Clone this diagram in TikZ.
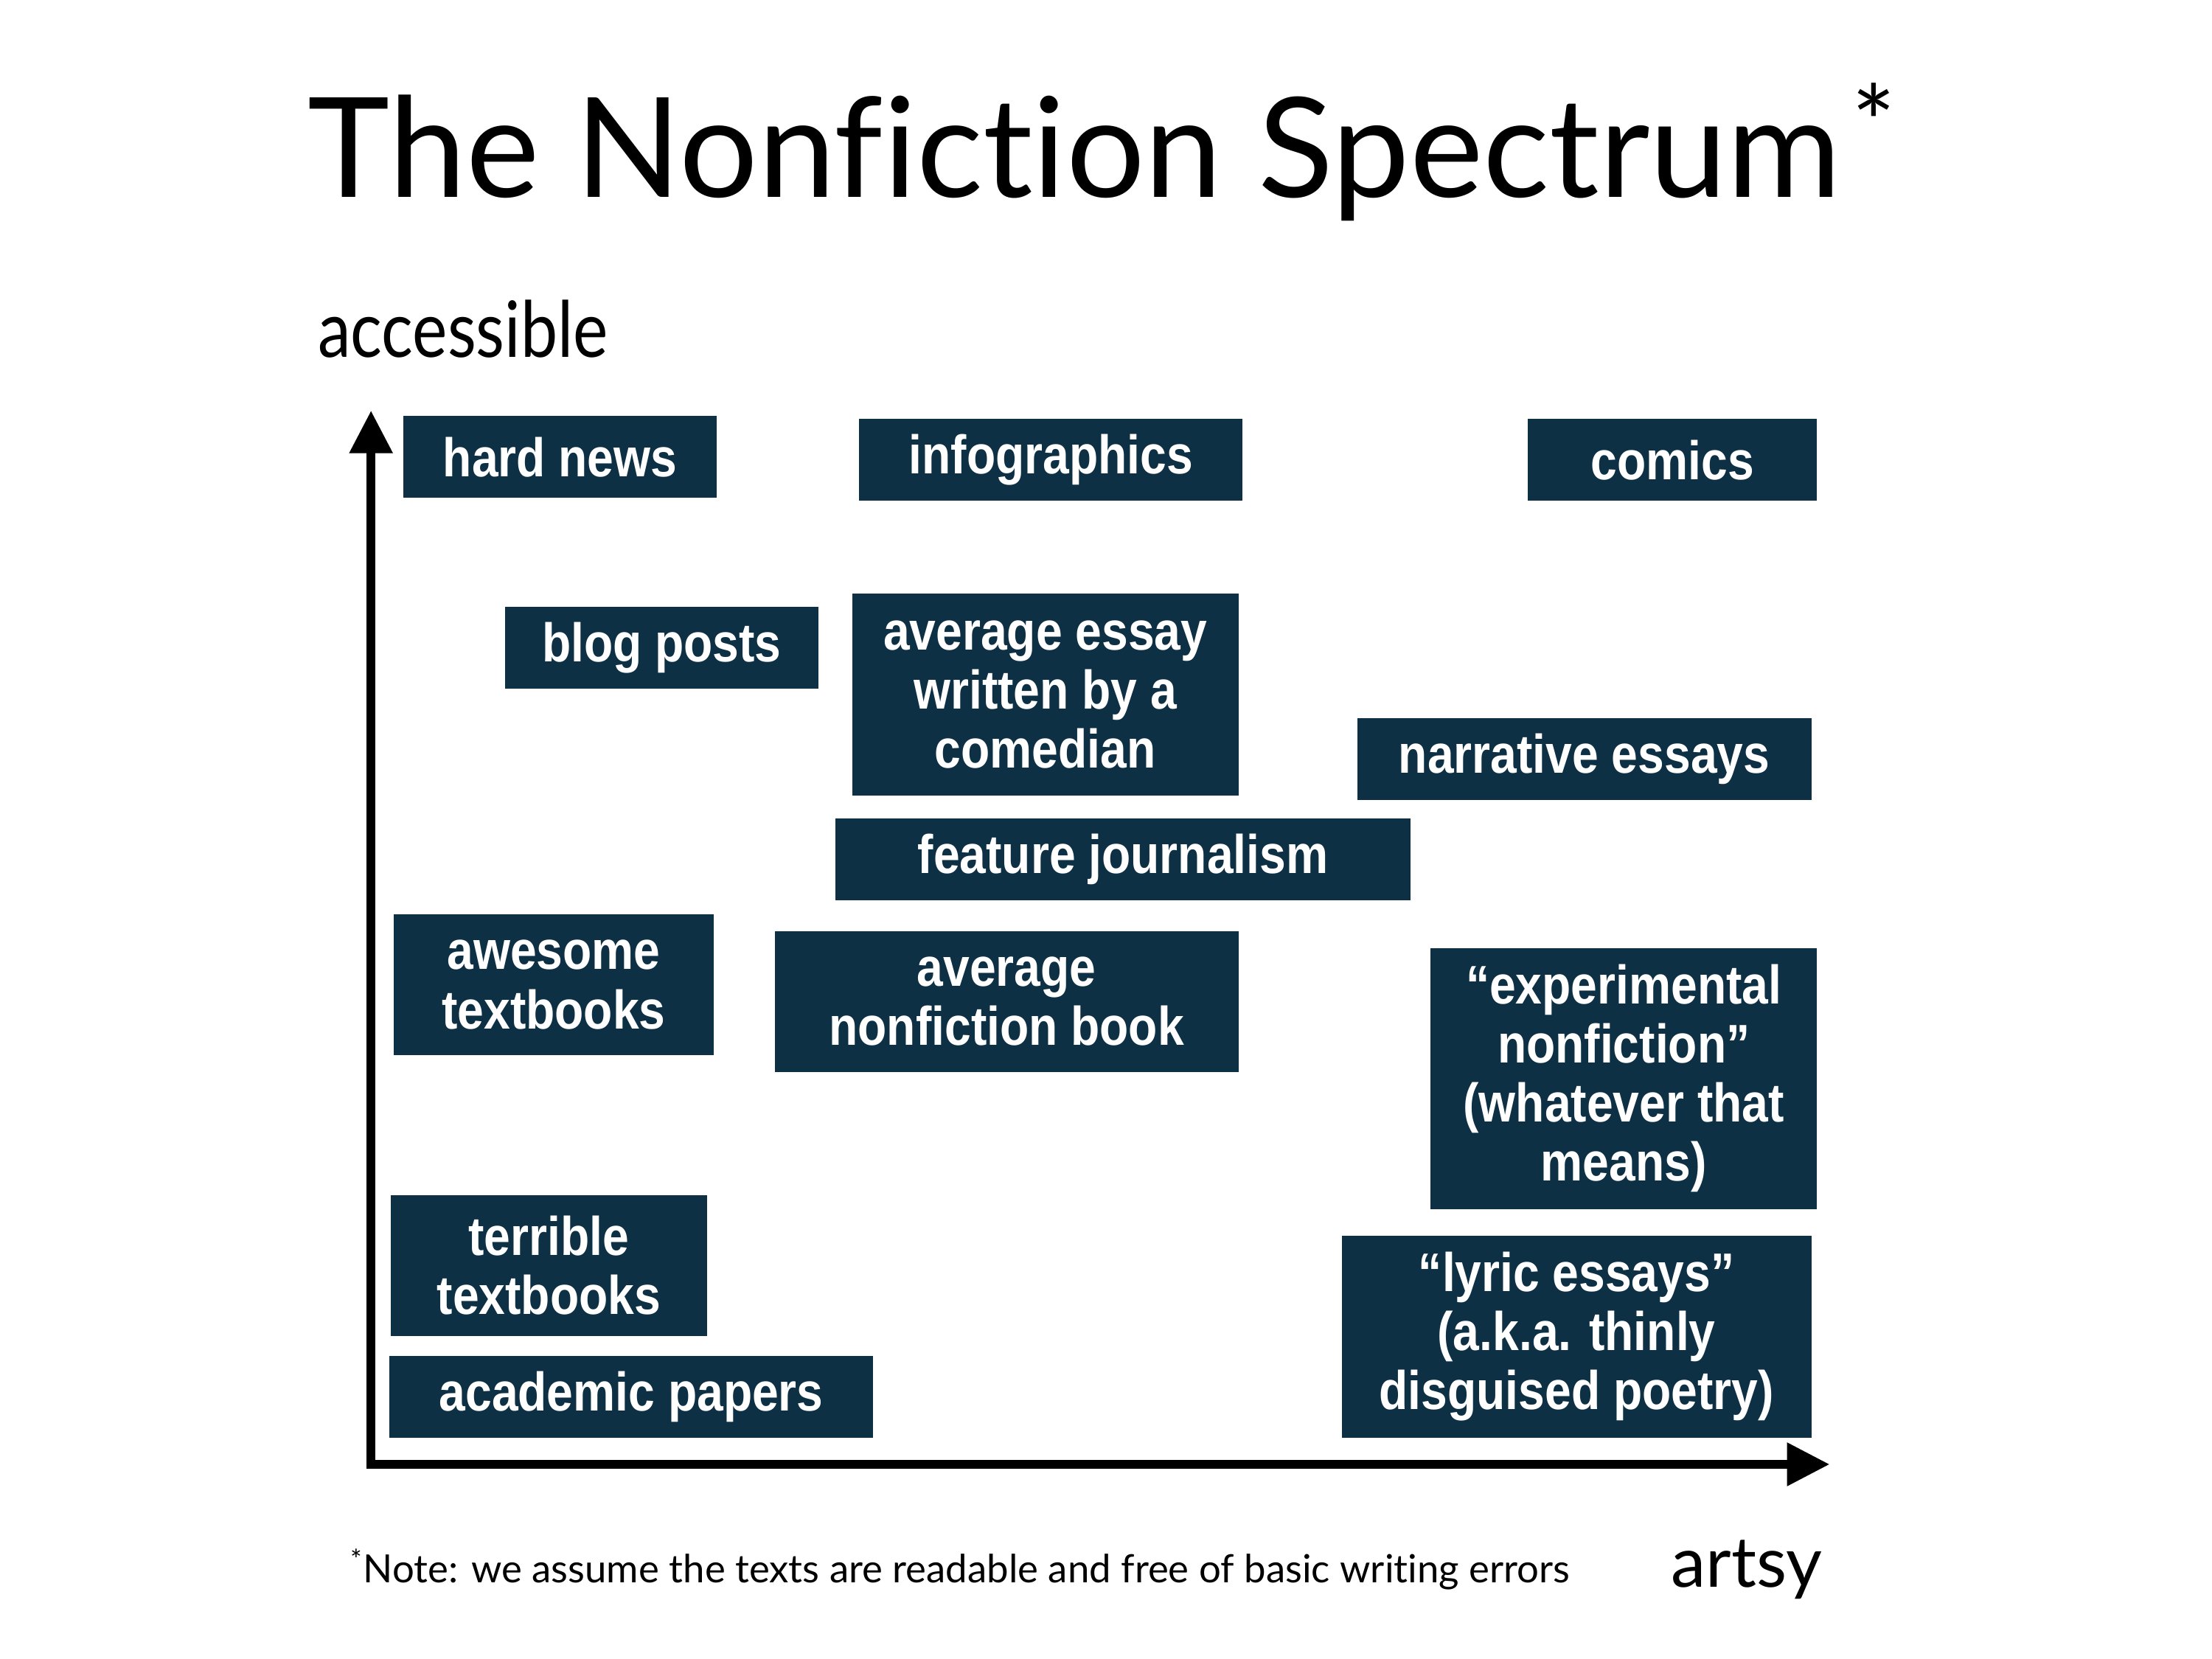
\documentclass[tikz,border=0pt]{standalone}
\usepackage{fontspec}
\setmainfont{Lato}[Ligatures=NoCommon]
\newfontfamily\narrowfont{Lato}[FakeStretch=0.85]
\newfontfamily\genrefont{Liberation Sans}[FakeStretch=0.87]
\usetikzlibrary{arrows.meta}

\definecolor{navy}{RGB}{14,48,68}

\tikzset{
  genre/.style={fill=navy, text=white, inner sep=0pt, align=center,
    font=\genrefont\bfseries\fontsize{21}{22.8}\selectfont},
  axis/.style={line width=3.5pt, line join=miter,
    {Triangle[length=5.8mm,width=5.6mm]}-{Triangle[length=5.8mm,width=5.6mm]}}
}

\begin{document}
\begin{tikzpicture}[x=0.019133cm, y=-0.019133cm]
    \useasboundingbox (0,0) rectangle (1568,1176);

    \node[anchor=base west, inner sep=0pt, font=\fontsize{53.6}{60}\selectfont] (title) at (218,140) {The Nonfiction Spectrum\hspace{0.08em}\raisebox{0.26em}{\fontsize{40}{44}\selectfont *}};
    \node[anchor=base west, inner sep=0pt, font=\narrowfont\fontsize{30}{34}\selectfont] (ylabel) at (225,253) {accessible};

    \coordinate (origin) at (263,1038);
    \coordinate (ytop) at (263,291);
    \coordinate (xend) at (1297,1038);
    \draw[axis] (ytop) -- (origin) -- (xend);

    \node[genre, minimum width=4.25cm, minimum height=1.11cm] (hardnews) at (397,324) {hard news};
    \node[genre, minimum width=5.20cm, minimum height=1.11cm] (infographics) at (745,326) {infographics};
    \node[genre, minimum width=3.92cm, minimum height=1.11cm] (comics) at (1185.5,326) {comics};
    \node[genre, minimum width=4.25cm, minimum height=1.11cm] (blog) at (469,459) {blog posts};
    \node[genre, minimum width=5.24cm, minimum height=2.74cm] (comedian) at (741,492.5) {average essay\\written by a\\comedian};
    \node[genre, minimum width=6.16cm, minimum height=1.11cm] (narrative) at (1123,538) {narrative essays};
    \node[genre, minimum width=7.81cm, minimum height=1.11cm] (feature) at (796,609) {feature journalism};
    \node[genre, minimum width=4.34cm, minimum height=1.91cm] (awesome) at (392.5,698) {awesome\\textbooks};
    \node[genre, minimum width=6.29cm, minimum height=1.91cm] (avgbook) at (713.5,710) {average\\nonfiction book};
    \node[genre, minimum width=5.24cm, minimum height=3.54cm] (experimental) at (1151,764.5) {“experimental\\nonfiction”\\(whatever that\\means)};
    \node[genre, minimum width=4.29cm, minimum height=1.91cm] (terrible) at (389,897) {terrible\\textbooks};
    \node[genre, minimum width=6.56cm, minimum height=1.11cm] (academic) at (447.5,990) {academic papers};
    \node[genre, minimum width=6.37cm, minimum height=2.74cm] (lyric) at (1117.5,947.5) {“lyric essays”\\(a.k.a. thinly\\disguised poetry)};

    \node[anchor=base west, inner sep=0pt, font=\fontsize{15}{18}\selectfont] (note) at (248,1122) {\textsuperscript{*}Note: we assume the texts are readable and free of basic writing errors};
    \node[anchor=base east, inner sep=0pt, font=\fontsize{27}{32}\selectfont] (xlabel) at (1292,1125) {artsy};
\end{tikzpicture}
\end{document}
